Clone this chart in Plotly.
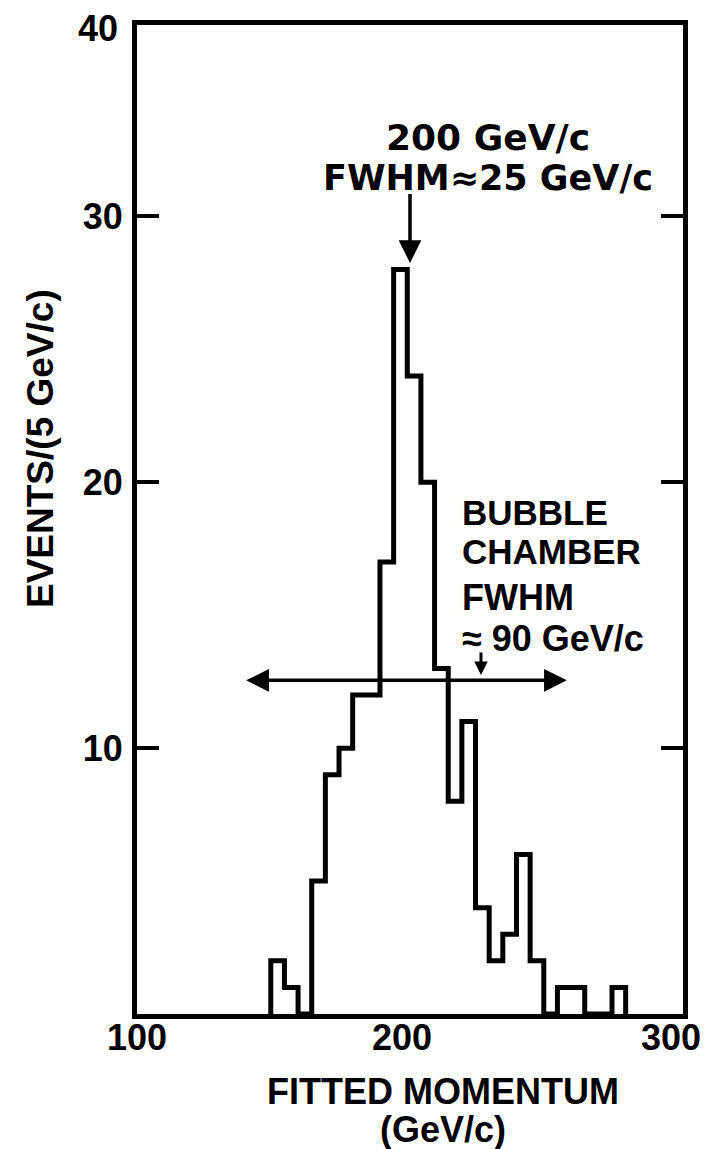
import plotly.graph_objects as go

# ---- data ----
bin_lo = [149, 154, 159, 164, 169, 174, 179, 184, 189, 194, 199, 204, 209,
          214, 219, 224, 229, 234, 239, 244, 249, 254, 259, 264, 269, 274]
counts = [2, 1, 0, 5, 9, 10, 12, 12, 17, 28, 24, 20, 13,
          8, 11, 4, 2, 3, 6, 2, 0, 1, 1, 0, 0, 1]
bin_width = 5

x_ticks = [100, 200, 300]
x_tick_text = ["100", "200", "300"]
y_ticks = [10, 20, 30]

peak_label = ["200 GeV/c", "FWHM≈25 GeV/c"]
bc_label = ["BUBBLE", "CHAMBER", "FWHM", "≈ 90 GeV/c"]

# step outline
xs = [bin_lo[0]] + bin_lo + [bin_lo[-1] + bin_width]
ys = [0] + counts + [0]

W, H = 708, 1149
L, R, T, B = 137, 25, 25, 135
pw, ph = W - L - R, H - T - B

LIB = "Liberation Sans"
DJV = "DejaVu Sans"


def f(size, family=LIB):
    return dict(family=family, size=size, color="black", weight="bold")


def px(x, y):
    """pixel position -> paper coordinates"""
    return (x - L) / pw, (H - B - y) / ph


fig = go.Figure()
fig.add_trace(go.Scatter(x=xs, y=ys, mode="lines", line_shape="hv",
                         line=dict(color="black", width=5), showlegend=False,
                         hoverinfo="skip"))

ann = []
# peak arrow + text
ann.append(dict(x=200, y=28.25, ax=200, ay=30.9, xref="x", yref="y", axref="x", ayref="y",
                text="", showarrow=True, arrowhead=2, arrowsize=1.3, arrowwidth=3.5,
                arrowcolor="black"))
ann.append(dict(x=228.5, y=32.95, xref="x", yref="y", text=peak_label[0], showarrow=False,
                font=f(36, DJV), xanchor="center", yanchor="middle"))
ann.append(dict(x=228.5, y=31.45, xref="x", yref="y", text=peak_label[1], showarrow=False,
                font=f(35, DJV), xanchor="center", yanchor="middle"))
# bubble chamber double arrow
ann.append(dict(x=140, y=12.55, ax=258, ay=12.55, xref="x", yref="y", axref="x", ayref="y",
                text="", showarrow=True, arrowhead=2, startarrowhead=2, arrowside="end+start",
                arrowsize=1.3, startarrowsize=1.3, arrowwidth=3.5, arrowcolor="black"))
ann.append(dict(x=226, y=12.75, ax=226, ay=13.65, xref="x", yref="y", axref="x", ayref="y",
                text="", showarrow=True, arrowhead=2, arrowsize=0.9, arrowwidth=3,
                arrowcolor="black"))
for txt, yy, sz in zip(bc_label, [18.85, 17.4, 15.68, 14.14], [35, 35, 36, 36]):
    ann.append(dict(x=218.3, y=yy, xref="x", yref="y", text=txt, showarrow=False,
                    font=f(sz), xanchor="left", yanchor="middle"))
# top "40" label
ann.append(dict(x=0, y=1, xref="paper", yref="paper", text="40", showarrow=False,
                font=f(36), xanchor="right", yanchor="middle", xshift=-17, yshift=-3))
# x tick labels (hand placed as in the original drawing)
for val, txt, cx in zip(x_ticks, x_tick_text, [137, 402, 671]):
    xp, yp = px(cx, 1037)
    ann.append(dict(x=xp, y=yp, xref="paper", yref="paper", text=txt, showarrow=False,
                    font=f(36), xanchor="center", yanchor="middle"))
# axis titles
for txt, cy in [("FITTED MOMENTUM", 1091), ("(GeV/c)", 1129)]:
    xp, yp = px(443, cy)
    ann.append(dict(x=xp, y=yp, xref="paper", yref="paper", text=txt, showarrow=False,
                    font=f(36), xanchor="center", yanchor="middle"))
xp, yp = px(40, 449)
ann.append(dict(x=xp, y=yp, xref="paper", yref="paper", text="EVENTS/(5 GeV/c)",
                showarrow=False, textangle=-90, font=f(37), xanchor="center", yanchor="middle"))

fig.update_layout(
    width=W, height=H,
    margin=dict(l=L, r=R, t=T, b=B, pad=0),
    paper_bgcolor="white", plot_bgcolor="white",
    annotations=ann,
    xaxis=dict(range=[100, 300], tickvals=x_ticks, showticklabels=False, ticks="",
               showgrid=False, zeroline=False,
               showline=True, linewidth=5, linecolor="black", mirror=True),
    yaxis=dict(range=[0, 37.2], tickvals=y_ticks, ticks="inside", ticklen=22, tickwidth=4,
               tickcolor="black", showgrid=False, zeroline=False,
               showline=True, linewidth=5, linecolor="black", mirror="ticks",
               tickfont=f(36), ticklabelstandoff=2),
)

fig.write_html("out.html")
